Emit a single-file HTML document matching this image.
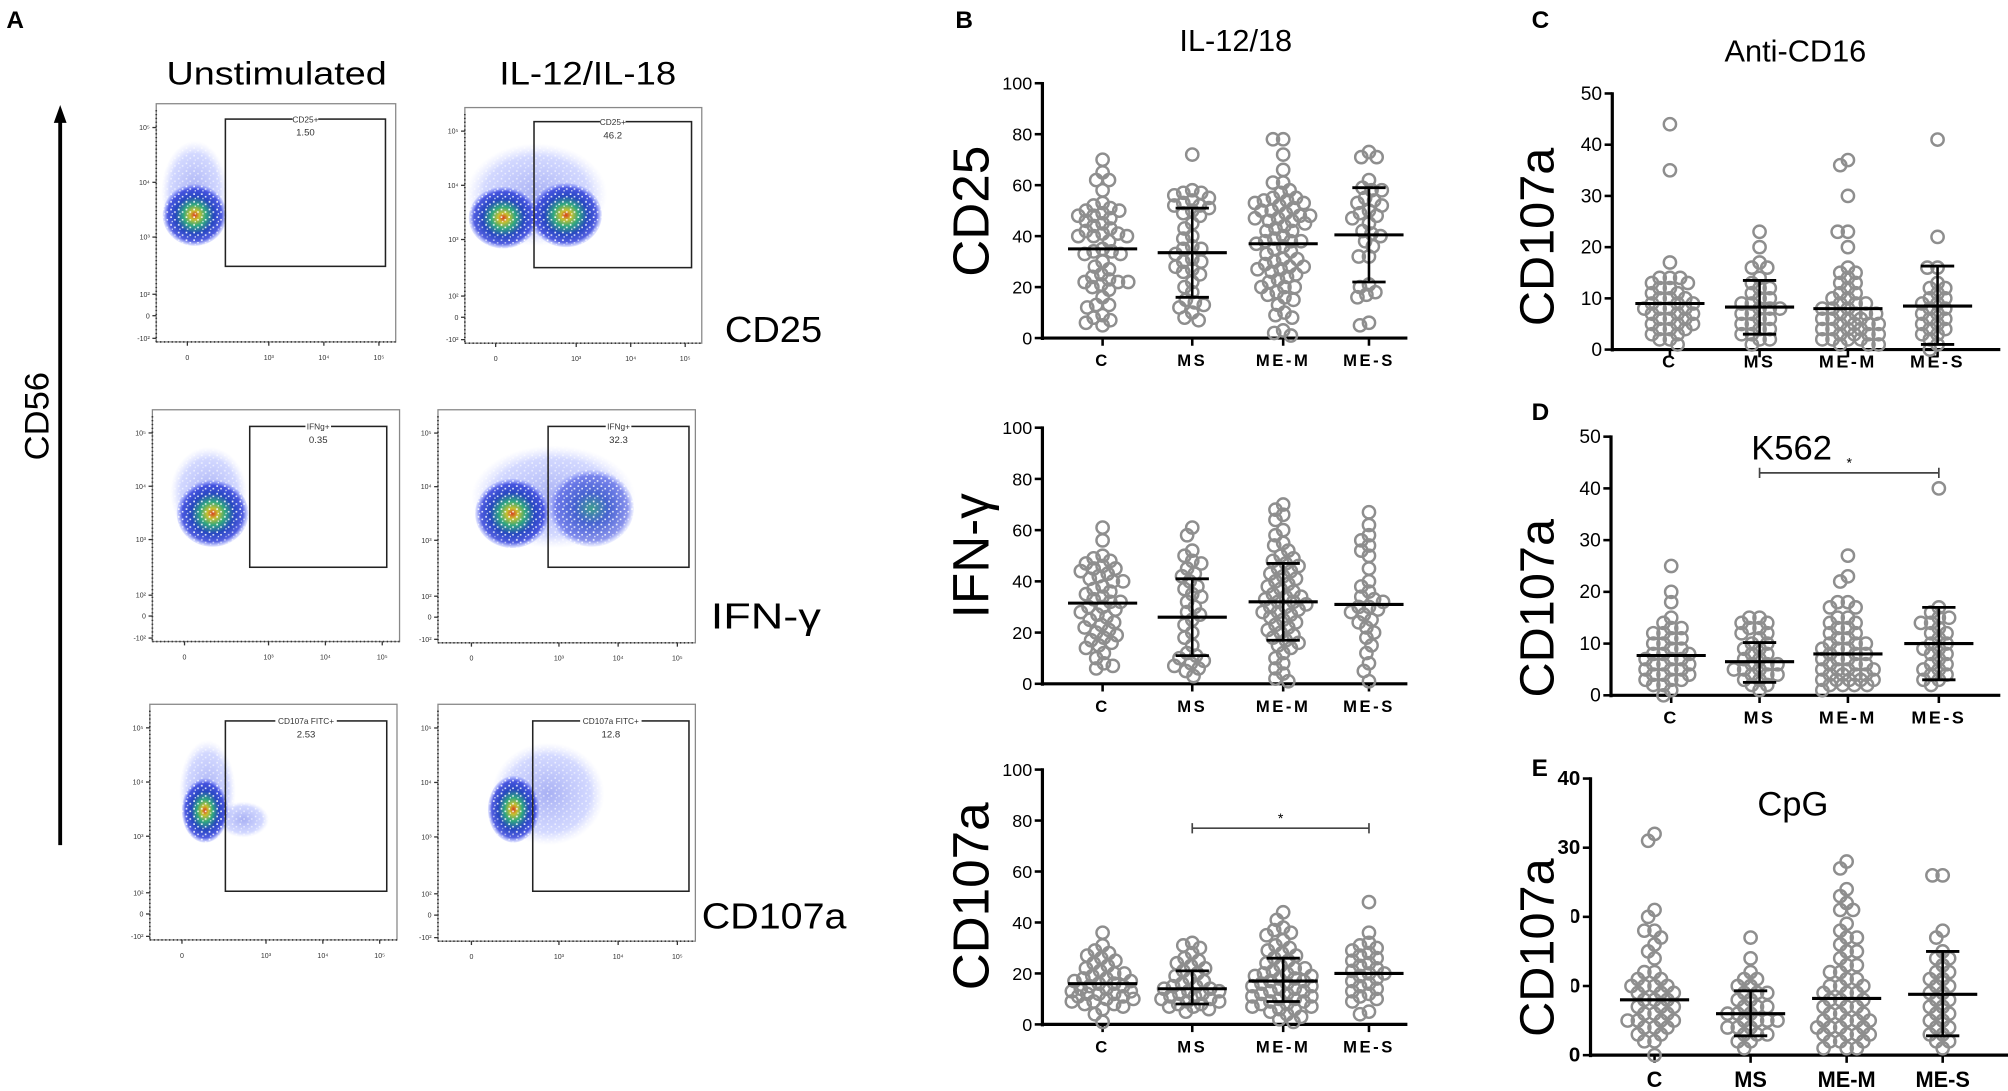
<!DOCTYPE html>
<html><head><meta charset="utf-8"><title>NK cell figure</title>
<style>
html,body{margin:0;padding:0;background:#fff;}
svg{display:block;font-family:"Liberation Sans",Arial,sans-serif;}
</style></head>
<body>
<svg id="fig" width="2008" height="1091" viewBox="0 0 1568 852" preserveAspectRatio="none" xmlns="http://www.w3.org/2000/svg">
<defs>
<radialGradient id="dens" cx="50%" cy="50%" r="50%">
<stop offset="0" stop-color="#d84020"/>
<stop offset="0.15" stop-color="#c8c030"/>
<stop offset="0.35" stop-color="#30a880"/>
<stop offset="0.6" stop-color="#2848c0"/>
<stop offset="0.85" stop-color="#2838d8" stop-opacity="0.8"/>
<stop offset="1" stop-color="#6070ff" stop-opacity="0.15"/>
</radialGradient>
<radialGradient id="dens2" cx="50%" cy="50%" r="50%">
<stop offset="0" stop-color="#40a090"/>
<stop offset="0.4" stop-color="#3050c8" stop-opacity="0.85"/>
<stop offset="0.85" stop-color="#4050e0" stop-opacity="0.6"/>
<stop offset="1" stop-color="#7080ff" stop-opacity="0.1"/>
</radialGradient>
<radialGradient id="halo" cx="50%" cy="50%" r="50%">
<stop offset="0" stop-color="#5060e8" stop-opacity="0.5"/>
<stop offset="0.75" stop-color="#8090ff" stop-opacity="0.35"/>
<stop offset="1" stop-color="#b0b8ff" stop-opacity="0"/>
</radialGradient>
<pattern id="speck" width="6" height="6" patternUnits="userSpaceOnUse">
<rect x="0" y="0" width="6" height="6" fill="none"/>
<rect x="1" y="1" width="1.2" height="1.2" fill="#fff" fill-opacity="0.7"/>
<rect x="4" y="3" width="1.2" height="1.2" fill="#fff" fill-opacity="0.6"/>
<rect x="2" y="4.5" width="1" height="1" fill="#fff" fill-opacity="0.5"/>
</pattern>
</defs>

<g>
<text x="5" y="22" font-size="19" font-weight="bold">A</text>
<text x="130" y="66" font-size="25" textLength="172" lengthAdjust="spacingAndGlyphs">Unstimulated</text>
<text x="390" y="66" font-size="25" textLength="138" lengthAdjust="spacingAndGlyphs">IL-12/IL-18</text>
<text transform="translate(38,325) rotate(-90)" font-size="27" text-anchor="middle">CD56</text>
<line x1="47" y1="660" x2="47" y2="92" stroke="#000" stroke-width="3"/>
<polygon points="47,82 42,96 52,96" fill="#000"/>
<text x="566" y="267" font-size="28" textLength="76" lengthAdjust="spacingAndGlyphs">CD25</text>
<text x="555" y="491" font-size="28" textLength="86" lengthAdjust="spacingAndGlyphs">IFN-γ</text>
<text x="548" y="725" font-size="28" textLength="113" lengthAdjust="spacingAndGlyphs">CD107a</text>
<g id="flow"></g>
</g>

<g>
<text x="746" y="22" font-size="19" font-weight="bold">B</text>
<text x="1196" y="22" font-size="19" font-weight="bold">C</text>
<text x="1196" y="328" font-size="19" font-weight="bold">D</text>
<text x="965" y="40" font-size="24" text-anchor="middle">IL-12/18</text>
<text x="1402" y="48" font-size="24" text-anchor="middle">Anti-CD16</text>
<text x="1399" y="359" font-size="27" text-anchor="middle">K562</text>
<text x="1400" y="637" font-size="27" text-anchor="middle">CpG</text>
</g>
<g id="plots"></g>
<text x="1196" y="606" font-size="19" font-weight="bold">E</text>
</svg>

<script>
const NS = 'http://www.w3.org/2000/svg';
const categories = ['C', 'MS', 'ME-M', 'ME-S'];
const ticks100 = [0, 20, 40, 60, 80, 100];
const ticks50 = [0, 10, 20, 30, 40, 50];
const ticks40 = [0, 10, 20, 30, 40];

// B1 CD25
const cd25C = [70,65,62,62,58,53,52,51,50,50,49,48,48,47,46,45,44,43,42,41,41,40,40,40,38,35,34,34,33,33,30,28,27,25,24,23,22,22,22,21,20,19,16,13,13,12,9,8,7,6,5];
const cd25MS = [72,58,57,57,56,55,54,53,52,52,51,50,49,48,45,43,40,39,36,35,35,33,31,30,30,28,27,26,25,22,20,18,15,14,13,12,10,8,7];
const cd25MEM = [78,78,72,66,61,61,58,57,55,55,54,54,53,53,52,51,50,50,49,48,48,47,47,46,46,45,44,43,42,42,40,39,38,38,38,37,36,35,34,33,31,31,30,29,28,28,27,27,26,25,24,23,22,20,20,20,18,17,16,15,13,10,9,8,3,2,1];
const cd25MES = [73,71,71,62,59,58,58,55,54,53,52,50,49,48,47,45,42,41,40,38,36,32,32,21,20,18,17,16,5,6];
const cd25Means = [35, 33.5, 37, 40.5];
const cd25SdLow = [null, 16, null, 22];
const cd25SdHigh = [null, 51, null, 59];

// B2 IFN-gamma
const ifnC = [61,56,50,49,48,47,46,45,45,44,43,42,41,40,40,38,37,36,35,34,33,32,32,30,30,29,28,27,26,25,24,23,22,21,20,19,18,17,16,15,14,12,10,8,7,6];
const ifnMS = [61,58,52,50,48,47,45,43,42,40,38,37,35,34,32,30,28,27,25,23,20,18,15,12,11,10,9,8,7,6,5,3];
const ifnMEM = [70,68,66,64,60,58,55,54,52,50,49,48,47,46,45,44,43,42,41,40,39,38,37,36,35,34,34,33,32,32,31,30,30,29,28,28,27,26,25,24,23,22,21,20,19,18,17,16,15,14,12,10,8,6,4,2,1];
const ifnMES = [67,62,58,56,54,52,50,45,40,38,36,34,33,32,30,30,29,28,27,25,24,22,20,18,15,12,8,5,1];
const ifnMeans = [31.5, 26, 32, 31];
const ifnSdLow = [null, 11, 17, null];
const ifnSdHigh = [null, 41, 47, null];

// B3 CD107a IL-12/18
const b107C = [36,31,29,28,27,26,25,24,23,22,21,20,20,19,18,18,17,17,16,16,15,15,14,14,13,13,12,12,12,11,11,10,10,9,9,8,8,7,6,4,1];
const b107MS = [32,31,30,28,26,25,24,23,22,21,20,19,18,17,16,15,15,14,14,13,13,12,12,11,11,10,10,9,9,8,8,7,7,6,5];
const b107MEM = [44,41,38,37,36,35,33,31,30,29,28,27,26,25,24,23,22,22,21,20,20,19,19,18,18,17,17,16,16,15,15,14,14,13,13,12,12,11,11,10,10,9,9,8,8,7,7,6,6,5,4,3,2,1];
const b107MES = [48,36,32,31,30,29,28,27,26,25,24,23,22,21,20,20,19,18,17,16,15,14,13,12,11,10,9,5,4];
const b107Means = [16, 14, 17, 20];
const b107SdLow = [null, 8, 9, null];
const b107SdHigh = [null, 21, 26, null];

// C anti-CD16
const cd16C = [44,35,17,14,14,14,13,13,12,12,11,11,10,10,10,9,9,9,8,8,8,8,7,7,7,6,6,6,5,5,5,4,4,4,3,3,2,2,1];
const cd16MS = [23,20,17,16,16,14,13,12,12,11,10,10,9,9,8,8,8,7,7,6,6,5,5,4,4,3,3,2,2,1];
const cd16MEM = [37,36,30,23,23,20,16,15,15,14,13,13,12,11,11,10,10,9,9,9,8,8,8,7,7,7,7,6,6,6,6,5,5,5,5,4,4,4,4,3,3,3,3,2,2,2,2,1,1,1];
const cd16MES = [41,22,16,16,13,12,12,11,10,10,9,9,8,8,7,7,6,6,5,5,4,4,3,3,2,1,0];
const cd16Means = [9, 8.3, 8, 8.5];
const cd16SdLow = [null, 3, null, 1];
const cd16SdHigh = [null, 13.5, null, 16.3];

// D K562
const k562C = [25,20,18,15,14,13,13,12,12,11,11,10,10,9,9,8,8,8,7,7,7,6,6,6,5,5,5,4,4,4,3,3,3,2,2,1,0];
const k562MS = [15,15,14,14,13,13,12,12,11,10,10,9,9,8,8,7,7,6,6,6,5,5,5,4,4,4,3,3,2,2,1];
const k562MEM = [27,23,22,18,18,17,17,15,15,14,14,13,13,12,12,11,11,10,10,10,9,9,9,8,8,8,7,7,7,6,6,6,5,5,5,5,4,4,4,4,3,3,3,3,3,2,2,2,2,1];
const k562MES = [40,17,16,15,15,14,14,13,12,12,11,10,10,9,9,8,8,7,6,6,5,5,4,4,3,3,2];
const k562Means = [7.7, 6.5, 8, 10];
const k562SdLow = [null, 2.5, null, 3];
const k562SdHigh = [null, 10.2, null, 17];

// E CpG
const cpgC = [32,31,21,20,18,18,17,16,15,14,12,12,11,11,10,10,10,10,9,9,9,8,8,8,7,7,7,6,6,6,5,5,5,5,4,4,4,3,3,2,2,0];
const cpgMS = [17,14,12,11,11,10,10,9,9,9,8,8,7,7,7,6,6,6,5,5,5,5,4,4,4,3,3,3,2,2,1];
const cpgMEM = [28,27,24,23,22,21,21,19,18,17,17,16,15,15,14,13,13,12,12,11,11,10,10,10,9,9,9,8,8,8,7,7,7,6,6,6,5,5,5,5,4,4,4,4,3,3,3,3,2,2,2,1,1,1];
const cpgMES = [26,26,18,17,15,14,14,13,12,12,11,11,10,10,9,9,8,8,7,7,6,6,5,5,4,4,3,3,2,2,1];
const cpgMeans = [8, 6, 8.2, 8.8];
const cpgSdLow = [null, 2.8, null, 2.8];
const cpgSdHigh = [null, 9.3, null, 15];

const sigB3 = [1, 3, 77];
const sigD = [1, 3, 43];

function mk(tag, attrs, parent) {
  const el = document.createElementNS(NS, tag);
  for (const k in attrs) el.setAttribute(k, attrs[k]);
  parent.appendChild(el);
  return el;
}

const plotsRoot = document.getElementById('plots');

function drawPlot(p) {
  const g = mk('g', {}, plotsRoot);
  
  
  const ys = v => p.y0 - (v / p.max) * (p.y0 - p.yTop);
  const xs = i => p.cats[i];
  p.ticks.forEach(t => {
    const tx = mk('text', {x: p.x0 - 8, y: ys(t) + 5, 'font-size': p.tickSize, 'text-anchor': 'end', 'font-weight': p.boldTicks ? 'bold' : 'normal'}, g);
    
    
    tx.textContent = t;
  });
  // y title
  if (p.titleBg) {
    const bg = mk('rect', {x: p.titleX - p.titleSize * 0.8, y: p.titleY - 62, width: p.titleSize * 0.85 + 12, height: 124, fill: '#fff'}, g);
    
    
  }
  const yt = mk('text', {transform: 'translate(' + p.titleX + ',' + p.titleY + ') rotate(-90)', 'font-size': p.titleSize, 'text-anchor': 'middle'}, g);
  
  
  yt.textContent = p.yTitle;
  // axes
  const ya = mk('line', {x1: p.x0, y1: ys(p.max) - 1, x2: p.x0, y2: p.y0 + 1.5, stroke: '#000', 'stroke-width': 2.5}, g);
  
  
  const xa = mk('line', {x1: p.x0 - 1, y1: p.y0, x2: p.x1, y2: p.y0, stroke: '#000', 'stroke-width': 2.5}, g);
  
  
  p.ticks.forEach(t => {
    const tl = mk('line', {x1: p.x0 - 6, y1: ys(t), x2: p.x0, y2: ys(t), stroke: '#000', 'stroke-width': 2}, g);
    
    
  });
  categories.forEach((c, i) => {
    const tl = mk('line', {x1: xs(i), y1: p.y0, x2: xs(i), y2: p.y0 + 6, stroke: '#000', 'stroke-width': 2}, g);
    
    
    const tx = mk('text', {x: xs(i), y: p.labelY, 'font-size': p.catSize, 'text-anchor': 'middle', 'font-weight': 'bold', 'letter-spacing': p.boldTicks ? 0 : 2}, g);
    
    
    tx.textContent = c;
  });
  // points (compact beeswarm)
  const r = 4.8, minD = 7.2, maxOff = 24;
  p.groups.forEach((vals, gi) => {
    const placed = [];
    const sorted = vals.slice().sort((a, b) => b - a);
    sorted.forEach(v => {
      const y = ys(v);
      let best = 0, bestD = -1;
      for (let k = 0; k <= 2 * maxOff; k++) {
        const cand = (k % 2 === 0 ? 1 : -1) * Math.ceil(k / 2);
        let md = 1e9;
        placed.forEach(q => { const d = Math.hypot(q[0] - cand, q[1] - y); if (d < md) md = d; });
        if (md >= minD) { best = cand; bestD = md; break; }
        if (md > bestD) { bestD = md; best = cand; }
      }
      placed.push([best, y]);
      const c = mk('circle', {cx: xs(gi) + best, cy: y, r: r, fill: 'none', stroke: '#8e8e8e', 'stroke-width': 1.9}, g);
      
      
    });
  });
  // means and SD
  categories.forEach((c, i) => {
    if (p.sdLow[i] !== null) {
      const sv = mk('line', {x1: xs(i), y1: ys(p.sdLow[i]), x2: xs(i), y2: ys(p.sdHigh[i]), stroke: '#000', 'stroke-width': 2}, g);
      
      
      [p.sdLow[i], p.sdHigh[i]].forEach(v => {
        const cp = mk('line', {x1: xs(i) - 13, y1: ys(v), x2: xs(i) + 13, y2: ys(v), stroke: '#000', 'stroke-width': 2.2}, g);
        
        
      });
    }
    const m = mk('line', {x1: xs(i) - 27, y1: ys(p.means[i]), x2: xs(i) + 27, y2: ys(p.means[i]), stroke: '#000', 'stroke-width': 2.4}, g);
    
    
  });
  if (p.sig) {
    const a = xs(p.sig[0]), b = xs(p.sig[1]), y = ys(p.sig[2]);
    const sl = mk('path', {d: 'M' + a + ',' + (y - 4) + 'V' + (y + 4) + 'M' + a + ',' + y + 'H' + b + 'M' + b + ',' + (y - 4) + 'V' + (y + 4), stroke: '#444', 'stroke-width': 1.3, fill: 'none'}, g);
    
    
    const st = mk('text', {x: (a + b) / 2, y: y - 4, 'font-size': 11, 'text-anchor': 'middle'}, g);
    
    
    st.textContent = '*';
  }
}

const bCats = [861, 931, 1002, 1069];
drawPlot({name: 'plot-b-cd25', x0: 814, x1: 1099, yTop: 65, y0: 264, max: 100, ticks: ticks100, tickSize: 14, cats: bCats, labelY: 286, catSize: 13,
  yTitle: 'CD25', titleX: 772, titleY: 165, titleSize: 40, groups: [cd25C, cd25MS, cd25MEM, cd25MES], means: cd25Means, sdLow: cd25SdLow, sdHigh: cd25SdHigh});
drawPlot({name: 'plot-b-ifng', x0: 814, x1: 1099, yTop: 334, y0: 534, max: 100, ticks: ticks100, tickSize: 14, cats: bCats, labelY: 556, catSize: 13,
  yTitle: 'IFN-γ', titleX: 772, titleY: 434, titleSize: 40, groups: [ifnC, ifnMS, ifnMEM, ifnMES], means: ifnMeans, sdLow: ifnSdLow, sdHigh: ifnSdHigh});
drawPlot({name: 'plot-b-cd107a', x0: 814, x1: 1099, yTop: 601, y0: 800, max: 100, ticks: ticks100, tickSize: 14, cats: bCats, labelY: 822, catSize: 13,
  yTitle: 'CD107a', titleX: 772, titleY: 700, titleSize: 40, groups: [b107C, b107MS, b107MEM, b107MES], means: b107Means, sdLow: b107SdLow, sdHigh: b107SdHigh, sig: sigB3});
drawPlot({name: 'plot-c-anti-cd16', x0: 1259, x1: 1562, yTop: 73, y0: 273, max: 50, ticks: ticks50, tickSize: 15, cats: [1304, 1374, 1443, 1513], labelY: 287, catSize: 14,
  yTitle: 'CD107a', titleX: 1213, titleY: 185, titleSize: 38, groups: [cd16C, cd16MS, cd16MEM, cd16MES], means: cd16Means, sdLow: cd16SdLow, sdHigh: cd16SdHigh});
drawPlot({name: 'plot-d-k562', x0: 1258, x1: 1562, yTop: 341, y0: 543, max: 50, ticks: ticks50, tickSize: 15, cats: [1305, 1374, 1443, 1514], labelY: 565, catSize: 14,
  yTitle: 'CD107a', titleX: 1213, titleY: 475, titleSize: 38, groups: [k562C, k562MS, k562MEM, k562MES], means: k562Means, sdLow: k562SdLow, sdHigh: k562SdHigh, sig: sigD});
drawPlot({name: 'plot-e-cpg', x0: 1242, x1: 1568, yTop: 608, y0: 824, max: 40, ticks: ticks40, tickSize: 16, cats: [1292, 1367, 1442, 1517], labelY: 849, catSize: 17, boldTicks: true,
  yTitle: 'CD107a', titleX: 1213, titleY: 740, titleSize: 38, titleBg: true, groups: [cpgC, cpgMS, cpgMEM, cpgMES], means: cpgMeans, sdLow: cpgSdLow, sdHigh: cpgSdHigh});

// Flow cytometry density plots (illustrative)
const flowRoot = document.getElementById('flow');
const flowPanels = [
  {name: 'flow-cd25-unstim', fx: 122, fy: 81, fw: 187, fh: 186, gate: [176, 93, 301, 208], gl: 'CD25+', gv: '1.50',
    halos: [[152, 150, 26, 40]], blobs: [[152, 168, 25, 24, 'dens']]},
  {name: 'flow-cd25-il12', fx: 363, fy: 84, fw: 185, fh: 184, gate: [417, 95, 540, 209], gl: 'CD25+', gv: '46.2',
    halos: [[419, 152, 55, 40]], blobs: [[393, 170, 27, 24, 'dens'], [442, 168, 28, 25, 'dens']]},
  {name: 'flow-ifng-unstim', fx: 119, fy: 320, fw: 193, fh: 181, gate: [195, 333, 302, 443], gl: 'IFNg+', gv: '0.35',
    halos: [[163, 385, 30, 36]], blobs: [[166, 401, 28, 26, 'dens']]},
  {name: 'flow-ifng-il12', fx: 342, fy: 320, fw: 201, fh: 182, gate: [428, 333, 538, 443], gl: 'IFNg+', gv: '32.3',
    halos: [[432, 388, 64, 40]], blobs: [[462, 397, 33, 30, 'dens2'], [400, 401, 29, 27, 'dens']]},
  {name: 'flow-cd107a-unstim', fx: 117, fy: 550, fw: 193, fh: 184, gate: [176, 563, 302, 696], gl: 'CD107a FITC+', gv: '2.53',
    halos: [[162, 618, 22, 40], [190, 640, 20, 14]], blobs: [[160, 633, 18, 25, 'dens']]},
  {name: 'flow-cd107a-il12', fx: 342, fy: 550, fw: 201, fh: 185, gate: [416, 563, 538, 696], gl: 'CD107a FITC+', gv: '12.8',
    halos: [[428, 620, 44, 40]], blobs: [[401, 632, 20, 26, 'dens']]}
];
flowPanels.forEach(f => {
  const g = mk('g', {}, flowRoot);
  
  
  const fr = mk('rect', {x: f.fx, y: f.fy, width: f.fw, height: f.fh, fill: 'none', stroke: '#888', 'stroke-width': 1}, g);
  
  
  f.halos.forEach(h => {
    const e = mk('ellipse', {cx: h[0], cy: h[1], rx: h[2], ry: h[3], fill: 'url(#halo)'}, g);
    
    
  });
  f.blobs.forEach(b => {
    const e = mk('ellipse', {cx: b[0], cy: b[1], rx: b[2], ry: b[3], fill: 'url(#' + b[4] + ')'}, g);
    
    
  });
  [...f.halos, ...f.blobs].forEach(b => {
    const e = mk('ellipse', {cx: b[0], cy: b[1], rx: b[2], ry: b[3], fill: 'url(#speck)'}, g);
    
    
  });
  const gt = f.gate;
  const gr = mk('rect', {x: gt[0], y: gt[1], width: gt[2] - gt[0], height: gt[3] - gt[1], fill: 'none', stroke: '#222', 'stroke-width': 1.2}, g);
  
  
  const cx = (gt[0] + gt[2]) / 2;
  const lb = mk('rect', {x: cx - f.gl.length * 2, y: gt[1] - 2, width: f.gl.length * 4, height: 4, fill: '#fff'}, g);
  
  
  const lab = mk('text', {x: cx, y: gt[1] + 2.5, 'font-size': 6.5, 'text-anchor': 'middle', fill: '#333'}, g);
  
  
  lab.textContent = f.gl;
  const val = mk('text', {x: cx, y: gt[1] + 13, 'font-size': 7.5, 'text-anchor': 'middle', fill: '#333'}, g);
  
  
  val.textContent = f.gv;
  const ax = f.fx, by = f.fy + f.fh;
  const yl = ['10⁵', '10⁴', '10³', '10²', '0', '-10²'];
  const yfr = [0.1, 0.33, 0.56, 0.8, 0.89, 0.985];
  yl.forEach((t, i) => {
    const yy = f.fy + f.fh * yfr[i];
    const tk = mk('line', {x1: ax - 3, y1: yy, x2: ax, y2: yy, stroke: '#333', 'stroke-width': 1}, g);
    
    
    const tt = mk('text', {x: ax - 5, y: yy + 2, 'font-size': 5.5, 'text-anchor': 'end', fill: '#333'}, g);
    
    
    tt.textContent = t;
  });
  const yAxis = mk('line', {x1: ax, y1: f.fy + 5, x2: ax, y2: by, stroke: '#333', 'stroke-width': 1.3, 'stroke-dasharray': '1 2'}, g);
  
  
  const xl = ['0', '10³', '10⁴', '10⁵'];
  const xfr = [0.13, 0.47, 0.7, 0.93];
  xl.forEach((t, i) => {
    const xx = ax + f.fw * xfr[i];
    const tk = mk('line', {x1: xx, y1: by, x2: xx, y2: by + 3, stroke: '#333', 'stroke-width': 1}, g);
    
    
    const tt = mk('text', {x: xx, y: by + 14, 'font-size': 5.5, 'text-anchor': 'middle', fill: '#333'}, g);
    
    
    tt.textContent = t;
  });
  const xb = mk('line', {x1: ax, y1: by, x2: ax + f.fw, y2: by, stroke: '#333', 'stroke-width': 1.3, 'stroke-dasharray': '1 2'}, g);
  
  
});
</script>
</body></html>
